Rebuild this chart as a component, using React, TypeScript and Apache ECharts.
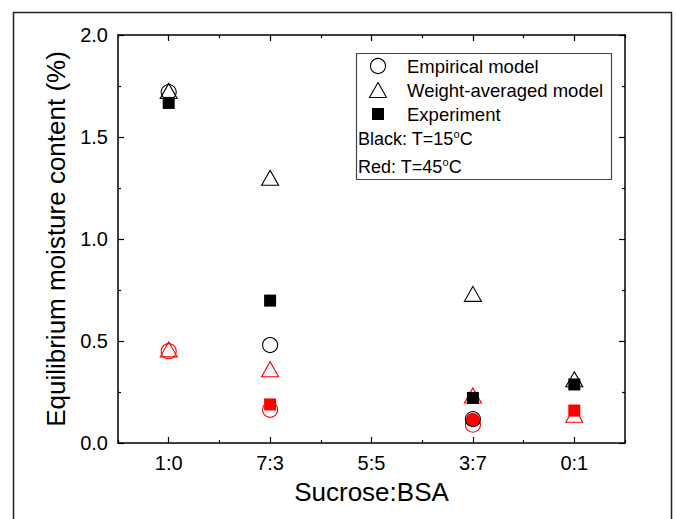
import React, { useEffect, useRef } from 'react';
import * as echarts from 'echarts';

const categories = ['1:0', '7:3', '5:5', '3:7', '0:1'];
// T = 15 °C (black)
const empirical15: (number | string)[] = [1.72, 0.48, '-', 0.117, '-'];
const weighted15: (number | string)[] = [1.726, 1.3, '-', 0.731, 0.312];
const experiment15: (number | string)[] = [1.667, 0.698, '-', 0.221, 0.287];
// T = 45 °C (red)
const empirical45: (number | string)[] = [0.45, 0.163, '-', 0.09, '-'];
const weighted45: (number | string)[] = [0.459, 0.362, '-', 0.233, 0.138];
const experiment45: (number | string)[] = ['-', 0.189, '-', 0.114, 0.159];

const yMin = 0;
const yMax = 2.0;
const yInterval = 0.5;

const legendNames = ['Empirical model', 'Weight-averaged model', 'Experiment'];
const noteBlack = 'Black: T=15{s|o}C';
const noteRed = 'Red: T=45{s|o}C';
const xTitle = 'Sucrose:BSA';
const yTitle = 'Equilibrium moisture content (%)';

const FONT = '"Liberation Sans", Arial, sans-serif';

export default function App() {
  const ref = useRef<HTMLDivElement>(null);
  useEffect(() => {
    if (!ref.current) return;
    const chart = echarts.init(ref.current, undefined, { renderer: 'svg' });

    const openStyle = (c: string) => ({ color: 'rgba(0,0,0,0)', borderColor: c, borderWidth: 1.1, opacity: 1 });
    const mk = (name: string, data: any[], symbol: string, size: any, style: any) => ({
      type: 'scatter',
      name,
      data,
      symbol,
      symbolSize: size,
      itemStyle: style,
      xAxisIndex: 0,
      yAxisIndex: 0,
      emphasis: { disabled: true },
    });

    const exp45Data = experiment45.map((v, i) =>
      i === 3 ? { value: v, symbol: 'circle', symbolSize: 14 } : v
    );

    const catAxis = (pos: string, major: boolean, labels: boolean) => ({
      type: 'category',
      data: categories,
      position: pos,
      boundaryGap: true,
      axisLine: { show: major, lineStyle: { color: '#000', width: 1.5 } },
      axisTick: {
        show: true,
        inside: true,
        alignWithLabel: major,
        length: major ? 6 : 3,
        lineStyle: { color: '#000', width: 1.2 },
      },
      axisLabel: {
        show: labels,
        color: '#000',
        fontSize: 20,
        fontFamily: FONT,
        margin: 10,
      },
      splitLine: { show: false },
      name: labels ? xTitle : '',
      nameLocation: 'middle',
      nameGap: 36,
      nameTextStyle: { color: '#000', fontSize: 26, fontFamily: FONT },
    });

    const valAxis = (pos: string, labels: boolean) => ({
      type: 'value',
      min: yMin,
      max: yMax,
      interval: yInterval,
      position: pos,
      axisLine: { show: true, lineStyle: { color: '#000', width: 1.5 } },
      axisTick: { show: true, inside: true, length: 6, lineStyle: { color: '#000', width: 1.2 } },
      minorTick: { show: true, splitNumber: 2, length: 3, lineStyle: { color: '#000', width: 1.2 } },
      axisLabel: {
        show: labels,
        color: '#000',
        fontSize: 20,
        fontFamily: FONT,
        margin: 10,
        formatter: (v: number) => v.toFixed(1),
      },
      splitLine: { show: false },
      name: labels ? yTitle : '',
      nameLocation: 'middle',
      nameGap: 46,
      nameTextStyle: { color: '#000', fontSize: 26, fontFamily: FONT },
    });

    const legendX = 378;
    const textX = 407;
    const rows = [66, 90, 114];
    const supRich = { s: { fontSize: 11, padding: [0, 0, 10, 0], fontFamily: FONT, fill: '#000' } };

    chart.setOption({
      animation: false,
      backgroundColor: '#fff',
      grid: { left: 118, top: 35, width: 507, height: 408, containLabel: false },
      xAxis: [
        catAxis('bottom', true, true),
        catAxis('bottom', false, false),
        catAxis('top', true, false),
        catAxis('top', false, false),
      ],
      yAxis: [valAxis('left', true), valAxis('right', false)],
      series: [
        mk('Weight-averaged model 45', weighted45, 'triangle', [17, 15], openStyle('#ff0000')),
        mk('Empirical model 45', empirical45, 'circle', 15, openStyle('#ff0000')),
        mk('Experiment 45', exp45Data, 'rect', 12, { color: '#ff0000', opacity: 1 }),
        mk('Weight-averaged model', weighted15, 'triangle', [17, 15], openStyle('#000')),
        mk('Empirical model', empirical15, 'circle', 15, openStyle('#000')),
        mk('Experiment', experiment15, 'rect', 12, { color: '#000', opacity: 1 }),
      ],
      graphic: [
        {
          type: 'rect',
          shape: { x: 13.5, y: 12.5, width: 658, height: 530 },
          style: { fill: 'none', stroke: '#222', lineWidth: 1.5 },
          silent: true,
          z: 0,
        },
        {
          type: 'rect',
          shape: { x: 356.5, y: 53.5, width: 255, height: 126 },
          style: { fill: '#fff', stroke: '#444', lineWidth: 1.2 },
          z: 10,
        },
        {
          type: 'circle',
          shape: { cx: legendX, cy: rows[0], r: 7.5 },
          style: { fill: 'none', stroke: '#000', lineWidth: 1.1 },
          z: 11,
        },
        {
          type: 'polygon',
          shape: {
            points: [
              [legendX, rows[1] - 7.5],
              [legendX + 8.5, rows[1] + 7.5],
              [legendX - 8.5, rows[1] + 7.5],
            ],
          },
          style: { fill: 'none', stroke: '#000', lineWidth: 1.1 },
          z: 11,
        },
        {
          type: 'rect',
          shape: { x: legendX - 6, y: rows[2] - 6, width: 12, height: 12 },
          style: { fill: '#000' },
          z: 11,
        },
        ...legendNames.map((t, i) => ({
          type: 'text',
          x: textX,
          y: rows[i],
          style: {
            text: t,
            fill: '#000',
            fontSize: 18.5,
            fontFamily: FONT,
            verticalAlign: 'middle',
          },
          z: 11,
        })),
        {
          type: 'text',
          x: 358,
          y: 139,
          style: {
            text: noteBlack,
            fill: '#000',
            fontSize: 18,
            fontFamily: FONT,
            verticalAlign: 'middle',
            rich: supRich,
          },
          z: 11,
        },
        {
          type: 'text',
          x: 358,
          y: 167,
          style: {
            text: noteRed,
            fill: '#000',
            fontSize: 18,
            fontFamily: FONT,
            verticalAlign: 'middle',
            rich: supRich,
          },
          z: 11,
        },
      ],
    });
    return () => chart.dispose();
  }, []);
  return (
    <div
      ref={ref}
      style={{ position: 'fixed', left: 0, top: 0, width: 676, height: 519, background: '#fff' }}
    />
  );
}
